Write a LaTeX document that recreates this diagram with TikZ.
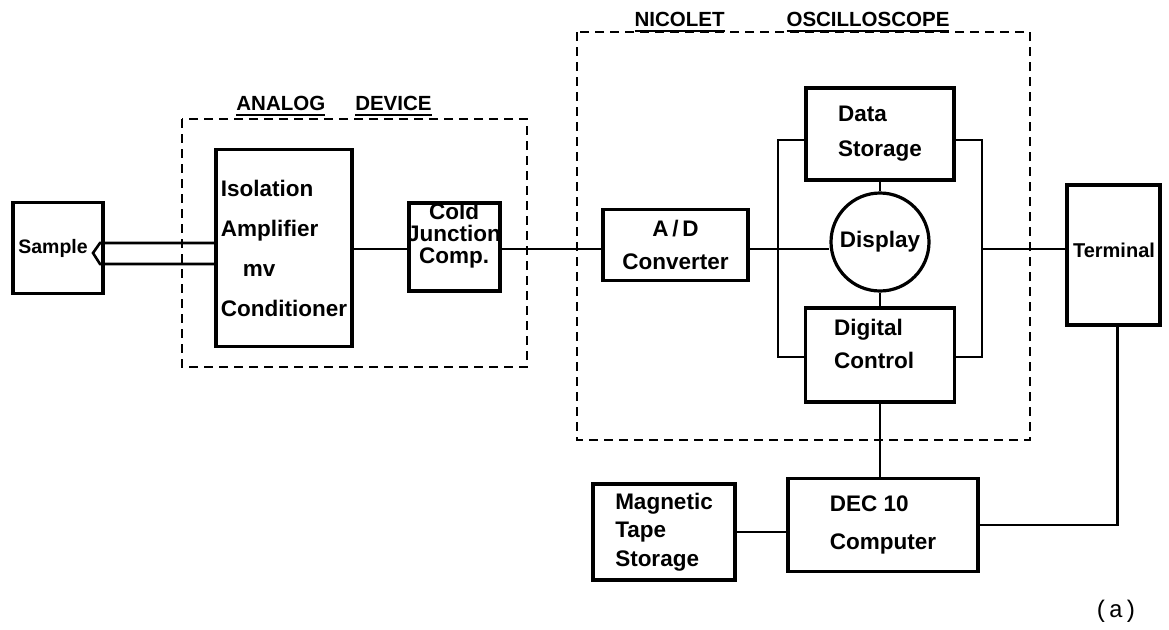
\documentclass[tikz,border=0pt]{standalone}
\usepackage{fontspec}
\setmainfont{Liberation Sans}
\newfontfamily\tagfont{Liberation Mono}
\newcommand\lett[1]{\fontsize{22.5}{#1}\selectfont\bfseries}
\newcommand\uword[1]{\leavevmode\vtop{\hbox{#1}\kern3pt\hrule height 2.4pt}}

\begin{document}
\begin{tikzpicture}[x=1pt,y=-1pt,
  box/.style={draw,line width=3.2pt,inner sep=0pt,align=center},
  wire/.style={line width=2.6pt},
  frame/.style={line width=2.5pt,dash pattern=on 9pt off 6pt},
  head/.style={font=\fontsize{20.5}{24}\selectfont\bfseries,inner sep=0pt}]
\useasboundingbox (0,0) rectangle (1169,629);

% dashed enclosures and their titles
\draw[frame] (182,119) rectangle (527,367);
\draw[frame] (577,32) rectangle (1030,440);
\node[head] (analog) at (334,106) {\uword{ANALOG}\hspace{30pt}\uword{DEVICE}};
\node[head] (nicolet) at (792,22) {\uword{NICOLET}\hspace{62pt}\uword{OSCILLOSCOPE}};

% blocks
\node[box,minimum width=90pt,minimum height=91pt,font=\fontsize{19.5}{24}\selectfont\bfseries] (sample) at (58,248) {\hspace*{-10pt}Sample};
\node[box,minimum width=136pt,minimum height=197pt,font=\lett{40},align=left] (amp) at (284,248)
  {Isolation\\Amplifier\\\hspace*{22pt}mv\\Conditioner};
\node[box,minimum width=91pt,minimum height=88pt] (cj) at (454.5,247) {};
\node[font=\lett{22},align=center,inner sep=0pt] (cjtxt) at (454,236) {Cold\\Junction\\Comp.};
\node[box,minimum width=145pt,minimum height=71pt,font=\lett{33}] (ad) at (675.5,245) {A\,/\,D\\Converter};
\node[box,minimum width=148pt,minimum height=92pt,font=\lett{35},align=left] (ds) at (880,134) {Data\\Storage};
\node[draw,circle,line width=3.2pt,minimum size=98pt,inner sep=0pt,font=\lett{24}] (disp) at (880,242) {Display};
\node[box,minimum width=149pt,minimum height=94pt] (dc) at (880,355) {};
\node[font=\lett{33},align=left,inner sep=0pt] (dctxt) at (874,344) {Digital\\Control};
\node[box,minimum width=93pt,minimum height=140pt] (term) at (1113.5,255) {};
\node[font=\fontsize{20}{24}\selectfont\bfseries,inner sep=0pt] (termtxt) at (1114,250) {Terminal};
\node[box,minimum width=190pt,minimum height=93pt,font=\lett{38},align=left] (dec) at (883,525) {DEC 10\\Computer};
\node[box,minimum width=142pt,minimum height=96pt,font=\lett{28.5},align=left] (tape) at (664,532) {Magnetic\\Tape\\Storage};
\node[font=\tagfont\fontsize{24}{28}\selectfont] (tag) at (1116,611) {(a)};

% thermocouple pair into the amplifier
\coordinate (tcA) at (100,243);
\coordinate (tcB) at (93,253);
\coordinate (tcC) at (100,264);
\draw[wire] (amp.west |- tcA) -- (tcA) -- (tcB) -- (tcC) -- (amp.west |- tcC);

% signal path
\coordinate (sig) at (0,249);
\draw[wire] (amp.east |- sig) -- (cj.west |- sig);
\draw[wire] (cj.east |- sig) -- (ad.west |- sig);
\draw[wire] (ad.east |- sig) -- (disp.west |- sig);

% internal bus of the scope
\coordinate (busTL) at (778,140);
\coordinate (busBL) at (778,357);
\coordinate (busTR) at (982,140);
\coordinate (busBR) at (982,357);
\draw[wire] (ds.west |- busTL) -- (busTL) -- (busBL) -- (dc.west |- busBL);
\draw[wire] (ds.east |- busTR) -- (busTR) -- (busBR) -- (dc.east |- busBR);
\draw[wire] (ds) -- (disp);
\draw[wire] (disp) -- (dc);
\draw[wire] (busTR |- sig) -- (term.west |- sig);

% links to the computer
\draw[wire] (dc.south) -- (dc.south |- dec.north);
\draw[wire] (tape) -- (tape -| dec.west);
\draw[wire] ([xshift=4pt]term.south) |- (dec.east);

\end{tikzpicture}
\end{document}
